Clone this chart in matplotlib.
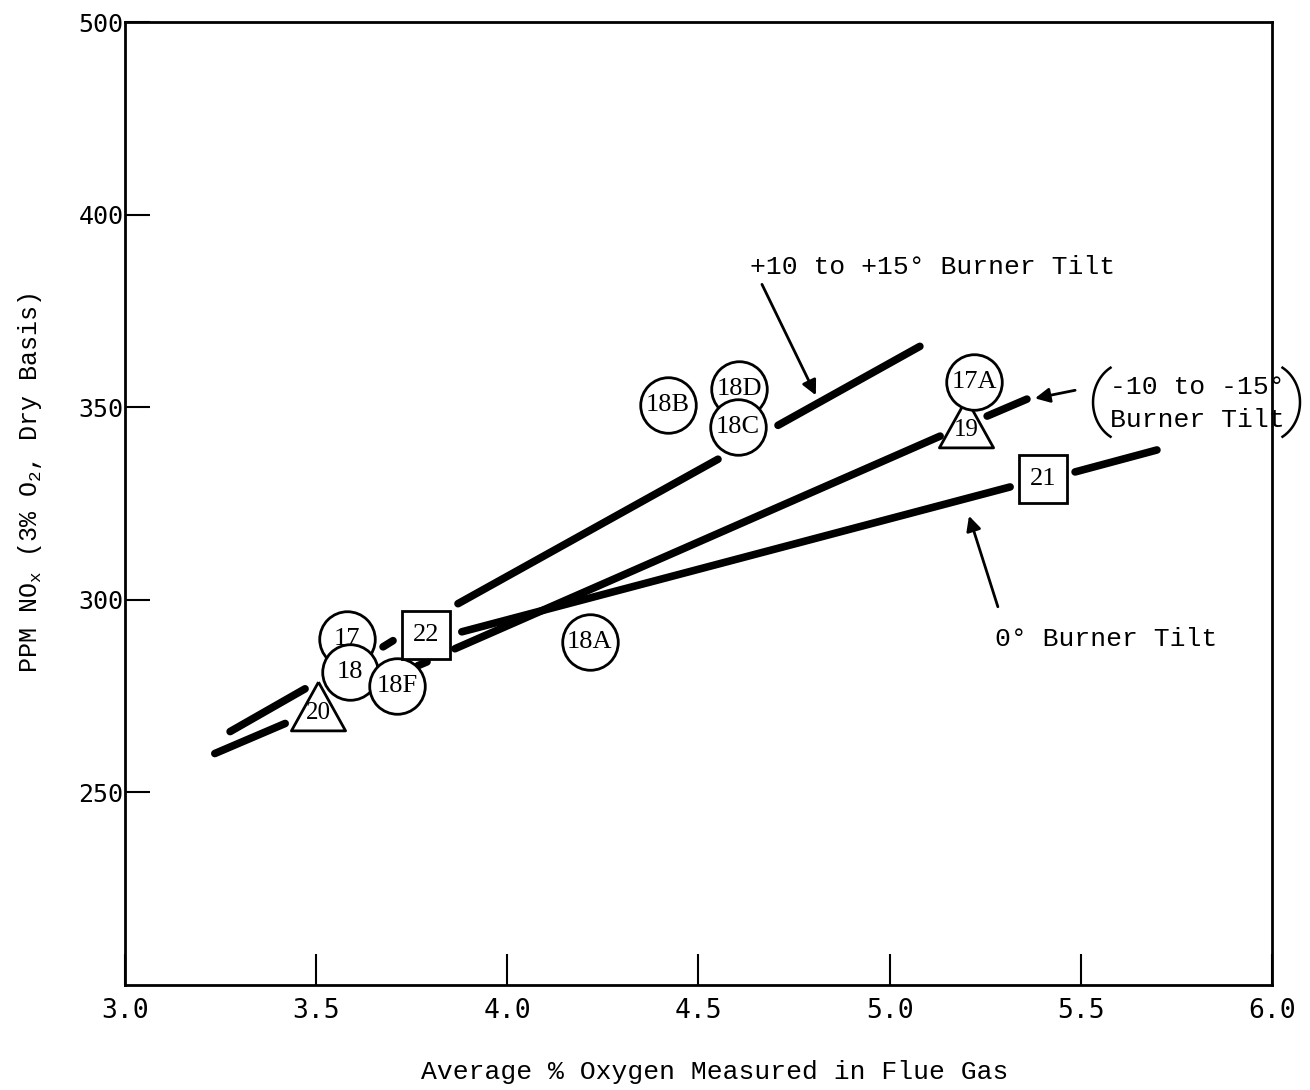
import numpy as np
import matplotlib.pyplot as plt

# line segments, each as (start, end)
up_x = [(3.275, 3.471), (3.675, 3.701), (3.871, 4.551), (4.708, 5.079)]
up_y = [(265.8, 276.9), (287.8, 289.4), (299.0, 336.5), (345.3, 365.8)]
down_x = [(3.235, 3.419), (3.766, 3.790), (3.863, 5.132), (5.255, 5.359)]
down_y = [(260.1, 267.9), (282.9, 283.9), (287.3, 342.5), (347.7, 352.1)]
zero_x = [(3.881, 5.315), (5.485, 5.699)]
zero_y = [(291.7, 329.3), (333.2, 338.9)]

# test points
tri_labels = ['20', '19']
tri_x = [3.505, 5.200]
tri_y = [272.5, 345.9]
circ_labels = ['17', '18', '18F', '18A', '18B', '18D', '18C', '17A']
circ_x = [3.581, 3.589, 3.711, 4.216, 4.420, 4.606, 4.603, 5.221]
circ_y = [289.9, 281.3, 277.7, 289.1, 350.5, 354.7, 344.8, 356.5]
sq_labels = ['22', '21']
sq_x = [3.787, 5.401]
sq_y = [290.9, 331.3]

xticks = [3.0, 3.5, 4.0, 4.5, 5.0, 5.5, 6.0]
yticks = [250, 300, 350, 400, 450]
ytick_labels = ['250', '300', '350', '400', '500']

mono = 'Liberation Mono'
serif = 'Liberation Serif'

fig = plt.figure(figsize=(13.1, 10.9), dpi=100)
ax = fig.add_axes([0.0954, 0.0963, 0.8756, 0.8835])

for xs, ys in [(up_x, up_y), (down_x, down_y), (zero_x, zero_y)]:
    for sx, sy in zip(xs, ys):
        ax.plot(sx, sy, color='black', lw=5.5, solid_capstyle='round', zorder=2)

tri = [(0, 0.9), (-1, -0.9), (1, -0.9), (0, 0.9)]
z = 3
for lb, x, y in zip(tri_labels, tri_x, tri_y):
    ax.plot(x, y, marker=tri, ms=39, mfc='white', mec='black', mew=2, ls='none', zorder=z)
    ax.annotate(lb, (x, y), xytext=(0, -5), textcoords='offset points', ha='center', va='center',
                fontsize=18, family=serif, zorder=z + 0.5)
    z += 1
for lb, x, y in zip(circ_labels, circ_x, circ_y):
    ax.plot(x, y, marker='o', ms=40, mfc='white', mec='black', mew=2, ls='none', zorder=z)
    ax.annotate(lb, (x, y), ha='center', va='center', fontsize=19, family=serif, zorder=z + 0.5)
    z += 1
for lb, x, y in zip(sq_labels, sq_x, sq_y):
    ax.plot(x, y, marker='s', ms=34, mfc='white', mec='black', mew=2, ls='none', zorder=z)
    ax.annotate(lb, (x, y), ha='center', va='center', fontsize=19, family=serif, zorder=z + 0.5)
    z += 1

arrow = dict(arrowstyle='-|>', color='black', lw=2, mutation_scale=22, shrinkA=0, shrinkB=0)
ax.annotate('', xy=(4.807, 353.1), xytext=(4.666, 381.9), arrowprops=arrow)
ax.annotate('', xy=(5.380, 352.3), xytext=(5.485, 354.4), arrowprops=arrow)
ax.annotate('', xy=(5.2075, 321.8), xytext=(5.283, 298.2), arrowprops=arrow)

ax.text(4.635, 386.3, '+10 to +15° Burner Tilt', fontsize=19, family=mono, ha='left', va='center')
ax.text(5.576, 351.0, '-10 to -15°\nBurner Tilt', fontsize=19, family=mono, ha='left', va='center',
        linespacing=1.45, clip_on=False)
# tall thin brackets round the second label
t = np.radians(np.linspace(120, 240, 40))
ax.plot(5.6234 + 0.0915 * np.cos(t), 351.3 + 10.35 * np.sin(t), color='black', lw=1.8, clip_on=False)
ax.plot(5.9817 - 0.0915 * np.cos(t), 351.3 + 10.35 * np.sin(t), color='black', lw=1.8, clip_on=False)
ax.text(5.2755, 289.9, '0° Burner Tilt', fontsize=19, family=mono, ha='left', va='center')

ax.set_xlim(3.0, 6.0)
ax.set_ylim(200, 450)
ax.set_xticks(xticks)
ax.set_xticklabels(['%.1f' % t for t in xticks])
ax.set_yticks(yticks)
ax.set_yticklabels(ytick_labels)
ax.tick_params(axis='x', direction='in', length=22, width=1.5, pad=9, labelsize=19)
ax.tick_params(axis='y', direction='in', length=18, width=1.5, pad=1, labelsize=18)
for lab in ax.get_xticklabels() + ax.get_yticklabels():
    lab.set_family('DejaVu Sans Mono')
for sp in ax.spines.values():
    sp.set_linewidth(2)

fig.text(715 / 1310, 1 - 1072 / 1090, 'Average % Oxygen Measured in Flue Gas', fontsize=19,
         family=mono, ha='center', va='center')
fig.text(30 / 1310, 1 - 483 / 1090, r'PPM NO$_\mathregular{x}$ (3% O$_\mathregular{2}$, Dry Basis)',
         fontsize=18, family=mono, rotation=90, ha='center', va='center')

fig.savefig('out.png', dpi=100)
